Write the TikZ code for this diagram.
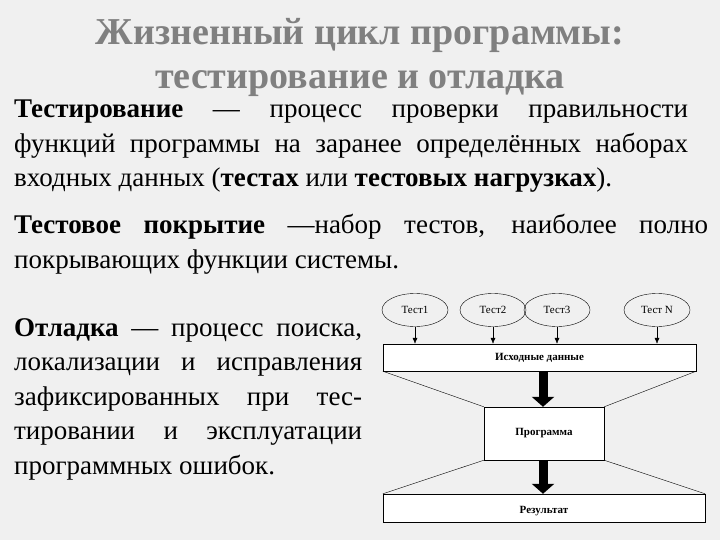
\documentclass[tikz,border=0pt]{standalone}
\usepackage{fontspec}
\setmainfont{Liberation Serif}
\usetikzlibrary{shapes.geometric,arrows.meta}
\begin{document}
\begin{tikzpicture}[x=1pt,y=-1pt,
  ell/.style={draw,ellipse,minimum width=66pt,minimum height=33pt,inner sep=0pt,font=\fontsize{11}{12}\selectfont},
  box/.style={draw,fill=white,inner sep=0pt,font=\bfseries\fontsize{11}{12}\selectfont},
  thin/.style={-{Latex[length=6pt,width=5pt]}},
  fat/.style={line width=9pt,-{Triangle[length=10pt,width=22pt]}},
  body/.style={anchor=north west,inner sep=0pt,align=justify,font=\fontsize{27}{34.5}\selectfont}]
\fill[gray!12] (0,0) rectangle (720,540);
\useasboundingbox (0,0) rectangle (720,540);
\node[text=black!50,font=\bfseries\fontsize{38}{44}\selectfont,align=center] (title) at (360,57)
  {Жизненный цикл программы:\\тестирование и отладка};
\node[body,text width=674pt] (p1) at (14,100) {\textbf{Тестирование} — процесс проверки правильности\linebreak функций программы на заранее определённых наборах\linebreak входных данных (\textbf{тестах} или \textbf{тестовых нагрузках}).};
\node[body,text width=694pt] (p2) at (14,214) {\textbf{Тестовое покрытие} —набор тестов, наиболее полно\linebreak покрывающих функции системы.};
\node[body,text width=348pt] (p3) at (14,318) {\textbf{Отладка} — процесс поиска,\linebreak локализации и исправления\linebreak зафиксированных при тес-\linebreak тировании и эксплуатации\linebreak программных ошибок.};
\node[ell] (t1) at (415,310) {Тест1};
\node[ell] (t2) at (493,310) {Тест2};
\node[ell] (t3) at (557,310) {Тест3};
\node[ell] (tn) at (657,310) {Тест N};
\node[box,minimum width=313pt,minimum height=27pt] (in) at (539.5,357.5) {Исходные данные};
\node[box,minimum width=120pt,minimum height=53pt] (pr) at (544,433.5) {Программа};
\node[box,minimum width=322pt,minimum height=28pt] (res) at (544,508) {};
\node[font=\bfseries\fontsize{11}{12}\selectfont] (rl) at (544,511) {Результат};
\draw (in.south west) -- (pr.north west) (in.south east) -- (pr.north east);
\draw (pr.south west) -- (res.north west) (pr.south east) -- (res.north east);
\foreach \t in {t1,t2,t3,tn} \draw[thin] (\t.south) -- (\t.south |- in.north);
\draw[fat] (in.south -| 543,0) -- (pr.north -| 543,0);
\draw[fat] (pr.south -| 543,0) -- (res.north -| 543,0);
\end{tikzpicture}
\end{document}
